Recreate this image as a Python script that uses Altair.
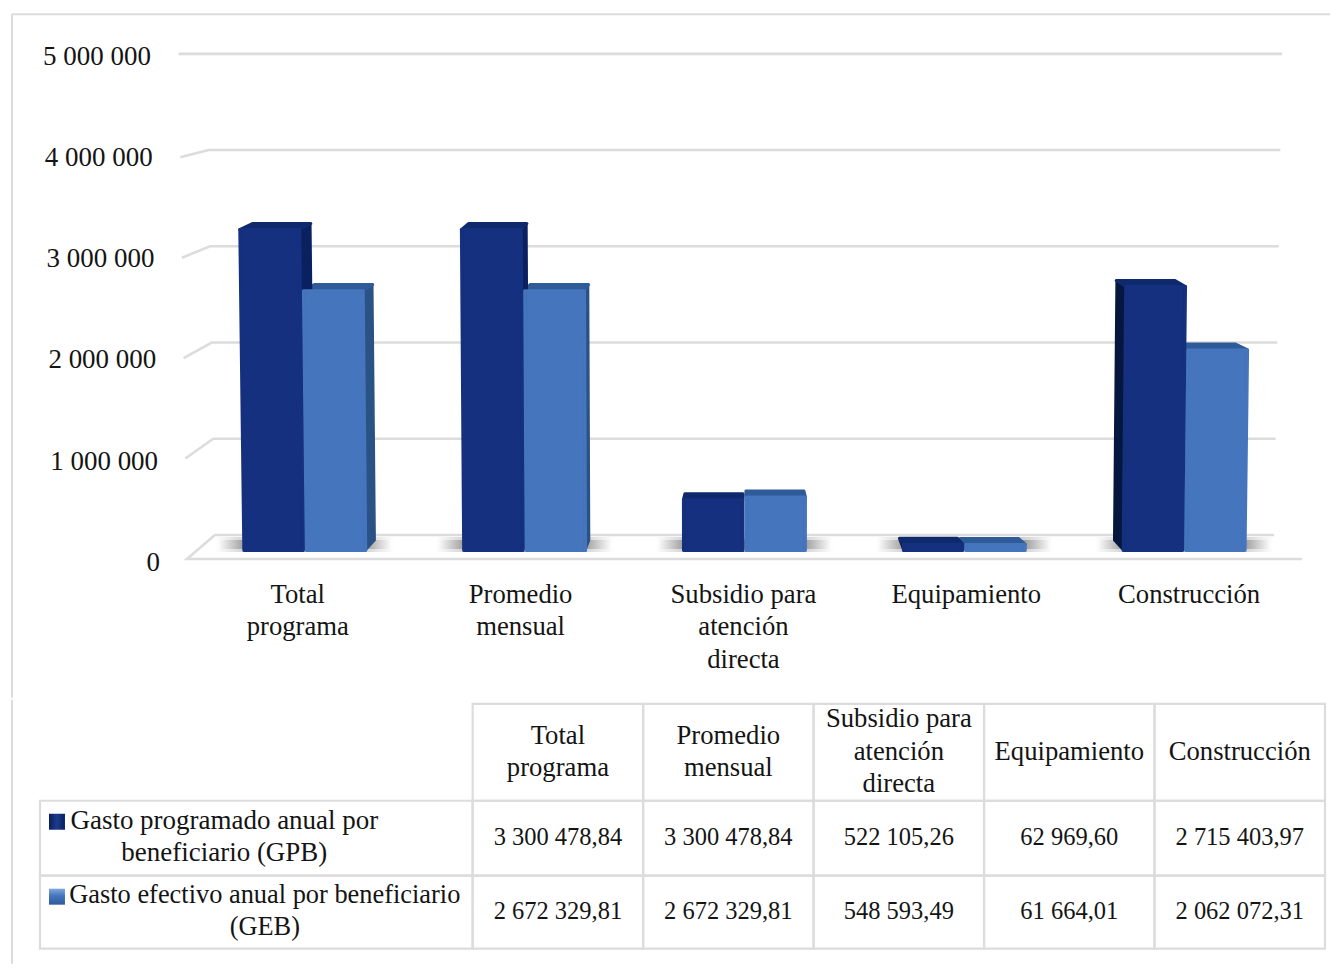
import altair as alt
import pandas as pd

# ---------- values ----------
categories = ["Total\nprograma", "Promedio\nmensual", "Subsidio para\natención\ndirecta", "Equipamiento", "Construcción"]
gpb = [3300478.84, 3300478.84, 522105.26, 62969.60, 2715403.97]
geb = [2672329.81, 2672329.81, 548593.49, 61664.01, 2062072.31]
series_labels = ["Gasto programado anual por\nbeneficiario (GPB)", "Gasto efectivo anual por beneficiario\n(GEB)"]
y_ticks = [0, 1000000, 2000000, 3000000, 4000000, 5000000]

# ---------- layout ----------
FONT = "Liberation Serif"
FS = 26.7
FS_NUM = 24.5
FS_TICK = 27
LH = 32.5
INK = "#141414"
GRID = "#dcdcdc"
W, H1, H2 = 1323, 690, 264
PX_PER_UNIT = 97.3e-6        # bar plane: pixels per unit of value
FLOOR_PX = 550.5
CENTER_PX, GROUP_PX = 745, 220
ALPHA = 2.45e-9              # perspective widening with height
BETA = 0.025                 # perspective narrowing with depth
DEPTH_TOP = 62000            # vertical shift of a bar's back edge at its top
DEPTH_FLOOR = 105000         # vertical shift of a bar's back edge on the floor
BAR = 59.5 / GROUP_PX
GAP = 1.5 / GROUP_PX
EDGE = 3


def pu(px):
    return (px - CENTER_PX) / GROUP_PX


def pv(py):
    return (FLOOR_PX - py) / PX_PER_UNIT


x_scale = alt.Scale(domain=[pu(8), pu(8 + W)], range=[0, W], nice=False, zero=False)
y_scale = alt.Scale(domain=[pv(8 + H1), pv(8)], range=[H1, 0], nice=False, zero=False)
X = lambda f, **k: alt.X(f, scale=x_scale, axis=None, title=None, stack=None, **k)
Y = lambda f, **k: alt.Y(f, scale=y_scale, axis=None, title=None, stack=None, **k)


def poly_rows(poly, bar):
    """Turn a convex polygon of (u, value) points into left/right rows per level."""
    levels = sorted({p[1] for p in poly})
    rows = []
    n = len(poly)
    for lv in levels:
        xs = []
        for i in range(n):
            (x0, y0), (x1, y1) = poly[i], poly[(i + 1) % n]
            if min(y0, y1) <= lv <= max(y0, y1):
                if y0 == y1:
                    xs += [x0, x1]
                else:
                    xs.append(x0 + (x1 - x0) * (lv - y0) / (y1 - y0))
        rows.append({"bar": bar, "lv": lv, "xa": min(xs), "xb": max(xs)})
    return rows


front = lambda u, v: u * (1 + ALPHA * v)
back = lambda u, v: u * (1 - BETA) * (1 + ALPHA * v)


def faces(values, start, stop, sid):
    fr, tp, sd_r, sd_l = [], [], [], []
    for i, t in enumerate(values):
        c = i - 2
        a, b = c + start, c + stop
        bar = f"{sid}{i}"
        tb = t + DEPTH_TOP
        fr += poly_rows([(front(a, 0), 0), (front(b, 0), 0), (front(b, t), t), (front(a, t), t)], bar)
        tp += poly_rows([(front(a, t), t), (front(b, t), t), (back(b, tb), tb), (back(a, tb), tb)], bar)
        if c != 0:
            e = b if c < 0 else a
            quad = [(front(e, 0), 0), (front(e, t), t), (back(e, tb), tb), (back(e, DEPTH_FLOOR), DEPTH_FLOOR)]
            (sd_r if c < 0 else sd_l).extend(poly_rows(quad, bar))
    return tuple(pd.DataFrame(r) for r in (fr, tp, sd_r, sd_l))


def area(df, color, grad=None, edge=1.6):
    return alt.Chart(df).mark_area(
        orient="horizontal", color=grad if grad is not None else color,
        stroke=color, strokeWidth=edge, strokeJoin="round",
    ).encode(y=Y("lv:Q"), x=X("xa:Q"), x2="xb:Q", detail="bar:N")


def edge_grad(edge, base):
    return alt.Gradient(gradient="linear", x1=0, x2=1, y1=0, y2=0, stops=[
        alt.GradientStop(color=edge, offset=0), alt.GradientStop(color=base, offset=0.05),
        alt.GradientStop(color=base, offset=0.95), alt.GradientStop(color=edge, offset=1)])


d_fr, d_tp, d_sr, d_sl = faces(gpb, -BAR - GAP, -GAP, "d")
l_fr, l_tp, l_sr, l_sl = faces(geb, GAP, BAR + GAP, "l")

dark_layers = [area(d_sr, "#0a2160"), area(d_sl, "#06173f"), area(d_tp, "#0e2a6c", edge=EDGE),
               area(d_fr, "#14307f", edge_grad("#0f2a72", "#14307f"), edge=EDGE)]
light_layers = [area(l_sr, "#2b5284"), area(l_sl, "#2b5284"), area(l_tp, "#2f5b98", edge=EDGE),
                area(l_fr, "#4475bd", edge_grad("#3d6cb0", "#4475bd"), edge=EDGE)]

# ---------- walls and floor ----------
wall_v = lambda v: (FLOOR_PX - 535 + 96.3e-6 * v) / PX_PER_UNIT
plane_v = lambda v: (FLOOR_PX - 559 + 100.5e-6 * v) / PX_PER_UNIT
wall_u, plane_u = 2.409, 2.536
grid_rows = []
for t in y_ticks:
    k = 1 + 3e-9 * t
    pts = [(-plane_u * k, wall_v(t) if t == y_ticks[-1] else plane_v(t)),
           (-wall_u * k, wall_v(t)), (wall_u * k, wall_v(t))]
    if t == 0:
        pts = [(plane_u, plane_v(0))] + pts
    for s, (u, v) in enumerate(pts):
        grid_rows.append({"tick": t, "s": s, "u": u, "v": v})
grid = alt.Chart(pd.DataFrame(grid_rows)).mark_line(color=GRID, strokeWidth=2.6).encode(
    x=X("u:Q"), y=Y("v:Q"), detail="tick:N", order=alt.Order("s:Q"))

# ---------- floor shadows ----------
def shadow(pad_px, top_px, bot_px, col):
    half = BAR + GAP + pad_px / GROUP_PX
    rows = [{"a": i - 2 - half, "b": i - 2 + half, "t": pv(top_px), "u": pv(bot_px)} for i in range(5)]
    grad = alt.Gradient(gradient="linear", x1=0, x2=1, y1=0, y2=0, stops=[
        alt.GradientStop(color="#ffffff", offset=0), alt.GradientStop(color=col, offset=0.2),
        alt.GradientStop(color=col, offset=0.8), alt.GradientStop(color="#ffffff", offset=1)])
    return alt.Chart(pd.DataFrame(rows)).mark_rect(color=grad).encode(
        x=X("a:Q"), x2="b:Q", y=Y("t:Q"), y2="u:Q")


shadows = [shadow(28, 537, 552, "#c8c8c8"), shadow(26, 540, 549, "#7e7e7e")]

# ---------- text on the plot ----------
tick_df = pd.DataFrame({
    "u": [pu(160 - 1.8 * t / 1e6) for t in y_ticks],
    "v": [pv(562.7 - 101.2 * t / 1e6) for t in y_ticks],
    "label": [f"{t:,}".replace(",", " ") for t in y_ticks],
})
tick_text = alt.Chart(tick_df).mark_text(font=FONT, fontSize=FS_TICK, color=INK, align="right", baseline="middle").encode(
    x=X("u:Q"), y=Y("v:Q"), text="label:N")

cat_df = pd.DataFrame({"u": [(744 + 223 * (i - 2) - CENTER_PX) / GROUP_PX for i in range(5)], "label": categories})
cat_text = alt.Chart(cat_df).mark_text(
    font=FONT, fontSize=FS, color=INK, align="center", baseline="top", lineBreak="\n", lineHeight=LH
).encode(x=X("u:Q"), y=alt.value(574), text="label:N")

frame_top = alt.Chart(pd.DataFrame({"a": [0]})).mark_rule(color=GRID, strokeWidth=2).encode(
    x=alt.value(4), x2=alt.value(W), y=alt.value(6))
frame_left = alt.Chart(pd.DataFrame({"a": [0]})).mark_rule(color=GRID, strokeWidth=2).encode(
    x=alt.value(4), y=alt.value(6), y2=alt.value(H1))

plot = alt.layer(frame_top, frame_left, grid, *shadows, *light_layers[:3], *dark_layers, light_layers[3],
                 tick_text, cat_text).properties(width=W, height=H1)

# ---------- data table ----------
COL0_PX, COL_PX = 473, 170.6
ROW_TOPS = [0, 97, 172, 245]
cx_scale = alt.Scale(domain=[(8 - COL0_PX) / COL_PX, (8 + W - COL0_PX) / COL_PX], range=[0, W], nice=False, zero=False)
cy_scale = alt.Scale(domain=[H2 - 4, -4], range=[H2, 0], nice=False, zero=False)
CX = lambda f: alt.X(f, scale=cx_scale, axis=None, title=None)
CY = lambda f: alt.Y(f, scale=cy_scale, axis=None, title=None)
LEFT = (40 - COL0_PX) / COL_PX

cells = [{"a": c, "b": c + 1, "t": ROW_TOPS[r], "u": ROW_TOPS[r + 1]} for r in range(3) for c in range(5)]
cells += [{"a": LEFT, "b": 0, "t": ROW_TOPS[r], "u": ROW_TOPS[r + 1]} for r in (1, 2)]
cell_marks = alt.Chart(pd.DataFrame(cells)).mark_rect(fillOpacity=0, stroke=GRID, strokeWidth=2.2).encode(
    x=CX("a:Q"), x2="b:Q", y=CY("t:Q"), y2="u:Q")

fmt = lambda v: f"{v:,.2f}".replace(",", " ").replace(".", ",")
head = [{"c": c + 0.5, "y": 48 - (categories[c].count("\n")) * LH / 2, "label": categories[c], "fs": FS} for c in range(5)]
nums = [{"c": c + 0.5, "y": 134, "label": fmt(gpb[c])} for c in range(5)]
nums += [{"c": c + 0.5, "y": 208, "label": fmt(geb[c])} for c in range(5)]
rows = [{"c": (224.5 - COL0_PX) / COL_PX, "y": 117, "label": series_labels[0], "fs": 27},
        {"c": (265 - COL0_PX) / COL_PX, "y": 191, "label": series_labels[1], "fs": 26.4}]
table_text = alt.Chart(pd.DataFrame(head + rows)).mark_text(
    font=FONT, color=INK, align="center", baseline="middle", lineBreak="\n", lineHeight=LH
).encode(x=CX("c:Q"), y=CY("y:Q"), text="label:N", size=alt.Size("fs:Q", scale=None))
num_text = alt.Chart(pd.DataFrame(nums)).mark_text(
    font=FONT, fontSize=FS_NUM, color=INK, align="center", baseline="middle"
).encode(x=CX("c:Q"), y=CY("y:Q"), text="label:N")


def swatch(row, stops, horizontal):
    grad = alt.Gradient(gradient="linear", x1=0, x2=1 if horizontal else 0, y1=0, y2=0 if horizontal else 1,
                        stops=[alt.GradientStop(color=c, offset=o) for c, o in stops])
    top = ROW_TOPS[row] + 13
    df = pd.DataFrame({"a": [(49 - COL0_PX) / COL_PX], "b": [(65 - COL0_PX) / COL_PX], "t": [top], "u": [top + 16]})
    return alt.Chart(df).mark_rect(color=grad).encode(x=CX("a:Q"), x2="b:Q", y=CY("t:Q"), y2="u:Q")


sw1 = swatch(1, [("#0a1f5c", 0), ("#1c3c8c", 0.5), ("#0a1f5c", 1)], True)
sw2 = swatch(2, [("#7fa8dc", 0), ("#4475bd", 0.45), ("#2f5b98", 1)], False)
frame_left2 = alt.Chart(pd.DataFrame({"a": [0]})).mark_rule(color=GRID, strokeWidth=2).encode(
    x=alt.value(4), y=alt.value(0), y2=alt.value(H2))

table = alt.layer(frame_left2, cell_marks, sw1, sw2, table_text, num_text).properties(width=W, height=H2)

chart = alt.vconcat(plot, table, spacing=0).properties(padding=0, background="#ffffff").configure_view(stroke=None)
chart.save("out.html", embed_options={"renderer": "svg", "actions": False})
